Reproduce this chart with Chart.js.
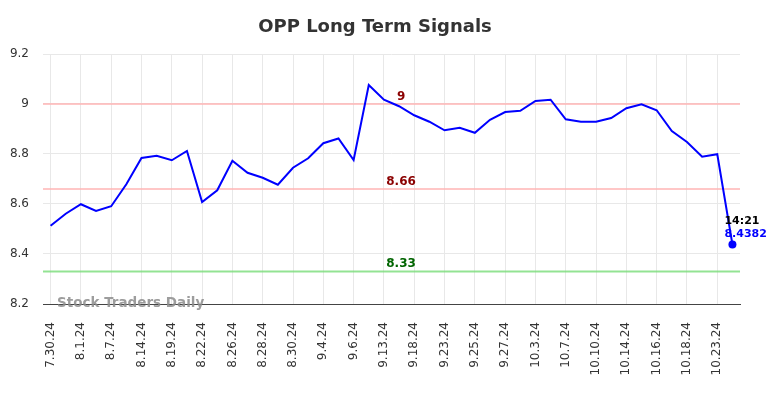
<!DOCTYPE html>
<html>
<head>
<meta charset="utf-8">
<script src="https://cdn.jsdelivr.net/npm/chart.js@4/dist/chart.umd.min.js"></script>
<style>
html,body{margin:0;padding:0;background:#fff;}
#wrap{width:784px;height:398px;position:relative;}
</style>
</head>
<body>
<div id="wrap"><canvas id="c" width="784" height="398"></canvas></div>
<script>
const dates = ["7.30.24","7.31.24","8.1.24","8.5.24","8.7.24","8.12.24","8.14.24","8.16.24","8.19.24","8.21.24",
  "8.22.24","8.23.24","8.26.24","8.27.24","8.28.24","8.29.24","8.30.24","9.3.24","9.4.24","9.5.24",
  "9.6.24","9.11.24","9.13.24","9.16.24","9.18.24","9.20.24","9.23.24","9.24.24","9.25.24","9.26.24",
  "9.27.24","10.1.24","10.3.24","10.4.24","10.7.24","10.9.24","10.10.24","10.11.24","10.14.24","10.15.24",
  "10.16.24","10.17.24","10.18.24","10.21.24","10.23.24","10.24.24"];
const prices = [8.513,8.561,8.599,8.572,8.591,8.679,8.784,8.793,8.775,8.812,
  8.608,8.655,8.773,8.725,8.705,8.677,8.745,8.783,8.843,8.862,
  8.776,9.076,9.017,8.991,8.955,8.929,8.895,8.905,8.885,8.937,
  8.968,8.973,9.012,9.017,8.939,8.929,8.929,8.944,8.983,8.999,
  8.975,8.892,8.848,8.789,8.799,8.4382];
const levelValues = [9, 8.66, 8.33];
const levelLabels = ["9", "8.66", "8.33"];
const yTicks = [8.2, 8.4, 8.6, 8.8, 9.0, 9.2];
const lastTime = "14:21";
const lastValue = "8.4382";
const titleText = "OPP Long Term Signals";
const watermark = "Stock Traders Daily";

const FONT = "'DejaVu Sans', sans-serif";
const levelLineColors = ["rgba(255,180,180,0.75)", "rgba(255,180,180,0.75)", "rgba(120,220,120,0.8)"];
const levelTextColors = ["#8b0000", "#8b0000", "#006400"];

const overlay = {
  id: 'overlay',
  beforeDatasetsDraw(chart) {
    const {ctx, chartArea, scales} = chart;
    ctx.save();
    levelValues.forEach((v, i) => {
      const y = scales.y.getPixelForValue(v);
      ctx.strokeStyle = levelLineColors[i];
      ctx.lineWidth = 2;
      ctx.beginPath();
      ctx.moveTo(chartArea.left, y);
      ctx.lineTo(chartArea.right, y);
      ctx.stroke();
    });
    ctx.restore();
  },
  afterDatasetsDraw(chart) {
    const {ctx, chartArea, scales} = chart;
    ctx.save();
    ctx.font = "bold 12px " + FONT;
    ctx.textAlign = 'center';
    ctx.textBaseline = 'middle';
    const lx = scales.x.getPixelForValue(23) + 2;
    levelValues.forEach((v, i) => {
      const y = scales.y.getPixelForValue(v);
      ctx.fillStyle = levelTextColors[i];
      ctx.fillText(levelLabels[i], lx, y - 7.5);
    });
    const n = prices.length - 1;
    const px = scales.x.getPixelForValue(n);
    const py = scales.y.getPixelForValue(prices[n]);
    ctx.font = "bold 11px " + FONT;
    ctx.textAlign = 'left';
    ctx.fillStyle = '#000';
    ctx.fillText(lastTime, px - 8, py - 23);
    ctx.fillStyle = '#0000ff';
    ctx.fillText(lastValue, px - 8, py - 10);
    ctx.font = "bold 13.5px " + FONT;
    ctx.fillStyle = 'rgba(140,140,140,0.85)';
    ctx.textAlign = 'left';
    ctx.fillText(watermark, 57, chartArea.bottom - 1);
    ctx.font = "bold 18px " + FONT;
    ctx.fillStyle = '#333';
    ctx.textAlign = 'center';
    ctx.fillText(titleText, 375, 27);
    ctx.restore();
  }
};

new Chart(document.getElementById('c'), {
  type: 'line',
  data: {
    labels: dates,
    datasets: [{
      data: prices,
      borderColor: '#0000ff',
      borderWidth: 2,
      tension: 0,
      fill: false,
      pointRadius: prices.map((p, i) => i === prices.length - 1 ? 4 : 0),
      pointBackgroundColor: '#0000ff',
      pointBorderColor: '#0000ff',
      pointBorderWidth: 0
    }]
  },
  options: {
    responsive: false,
    animation: false,
    devicePixelRatio: 1,
    layout: { padding: { top: 54, right: 44, left: 0, bottom: 0 } },
    plugins: { legend: { display: false }, tooltip: { enabled: false }, title: { display: false } },
    scales: {
      x: {
        type: 'category',
        offset: true,
        grid: { offset: false, color: '#e8e8e8', drawTicks: false },
        border: { display: true, color: '#444', width: 1 },
        ticks: {
          autoSkip: false,
          maxRotation: 90,
          minRotation: 90,
          padding: 18,
          color: '#333',
          font: { family: FONT, size: 12 },
          callback: function(v, i) { return i % 2 === 0 ? dates[i] : null; }
        },
        afterFit(scale) { scale.height = 94; }
      },
      y: {
        min: 8.2,
        max: 9.2,
        afterBuildTicks(scale) { scale.ticks = yTicks.map(v => ({ value: v })); },
        grid: { color: '#e8e8e8', drawTicks: false },
        border: { display: false },
        ticks: {
          padding: 14,
          color: '#333',
          font: { family: FONT, size: 12 },
          callback: v => String(+v.toFixed(1))
        },
        afterFit(scale) { scale.width = 43; }
      }
    }
  },
  plugins: [overlay]
});
</script>
</body>
</html>
